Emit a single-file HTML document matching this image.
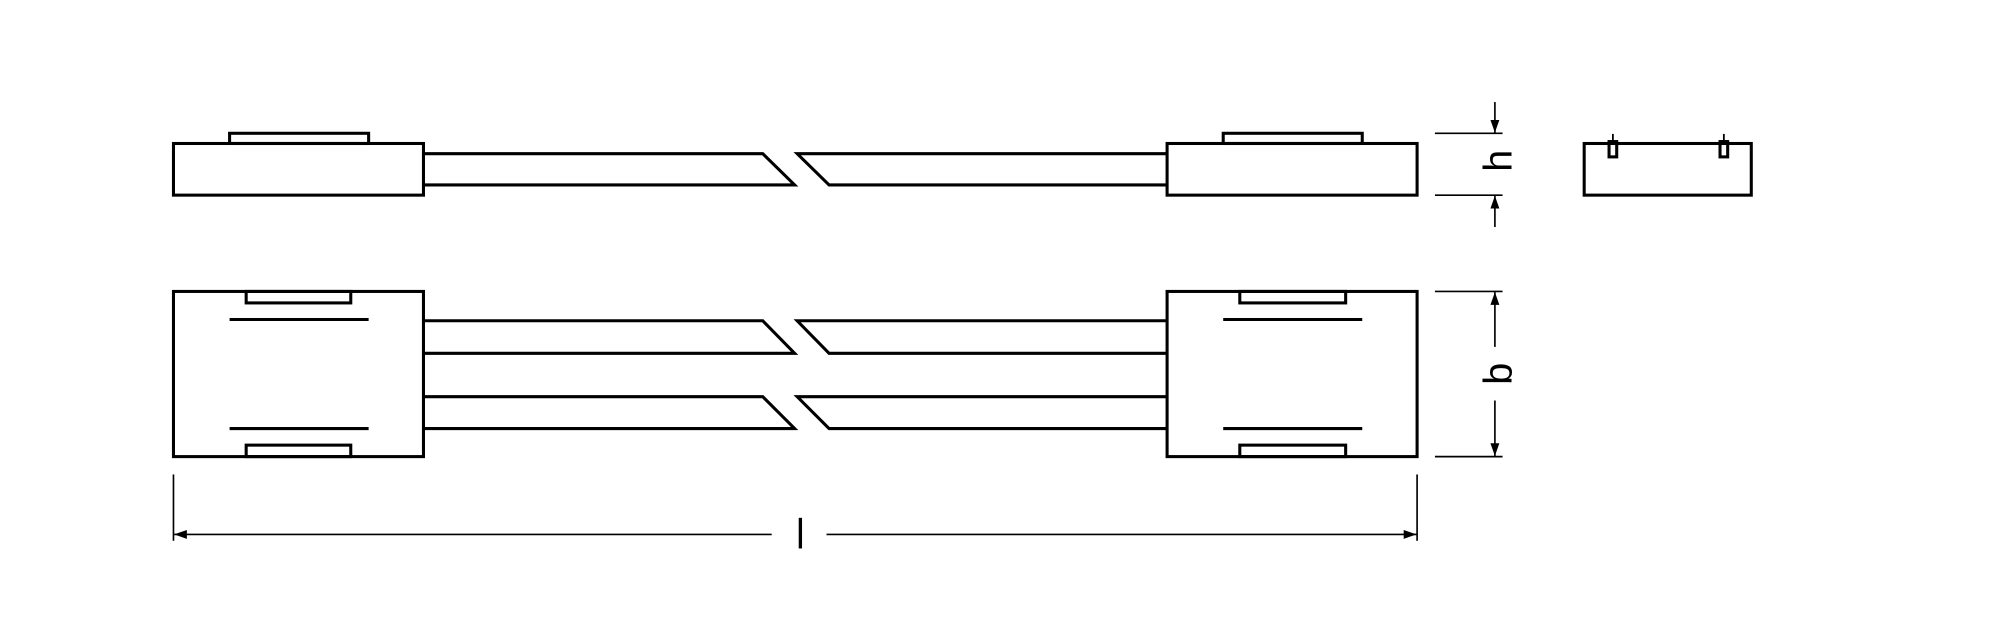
<!DOCTYPE html>
<html><head><meta charset="utf-8"><style>
html,body{margin:0;padding:0;background:#fff;}
svg{display:block;}
</style></head><body>
<svg width="2000" height="639" viewBox="0 0 1568 501" preserveAspectRatio="none" xmlns="http://www.w3.org/2000/svg">
<defs>
<marker id="ar" viewBox="0 0 10 10" refX="10" refY="5" markerWidth="10" markerHeight="10" markerUnits="userSpaceOnUse" orient="auto">
<path d="M0,1.5 L10,5 L0,8.5 z" fill="#000"/>
</marker>
</defs>
<g fill="none" stroke="#000" stroke-width="2.4" stroke-linejoin="miter">
<!-- TOP VIEW -->
<rect x="180" y="104.5" width="109" height="8"/>
<rect x="136" y="112.5" width="196" height="40.5"/>
<path d="M332,120.5 H598 L623,145 H332"/>
<path d="M915,120.5 H625 L650,145 H915"/>
<rect x="959" y="104.5" width="109" height="8"/>
<rect x="915" y="112.5" width="196" height="40.5"/>
<!-- end view -->
<rect x="1242" y="112.5" width="131" height="40.5"/>
<rect x="1261.5" y="111" width="6" height="12"/>
<rect x="1348.5" y="111" width="6" height="12"/>
<line x1="1264.5" y1="105" x2="1264.5" y2="112" stroke-width="1.4"/>
<line x1="1351.5" y1="105" x2="1351.5" y2="112" stroke-width="1.4"/>

<!-- PLAN VIEW -->
<rect x="136" y="228.5" width="196" height="129.5"/>
<rect x="193" y="228.5" width="82" height="9"/>
<rect x="193" y="349" width="82" height="9"/>
<line x1="180" y1="250.5" x2="289" y2="250.5"/>
<line x1="180" y1="336" x2="289" y2="336"/>
<path d="M332,251.5 H598 L623,277 H332"/>
<path d="M332,311 H598 L623,336 H332"/>
<path d="M915,251.5 H625 L650,277 H915"/>
<path d="M915,311 H625 L650,336 H915"/>
<rect x="915" y="228.5" width="196" height="129.5"/>
<rect x="972" y="228.5" width="83" height="9"/>
<rect x="972" y="349" width="83" height="9"/>
<line x1="959" y1="250.5" x2="1068" y2="250.5"/>
<line x1="959" y1="336" x2="1068" y2="336"/>
</g>

<g fill="none" stroke="#000" stroke-width="1.3">
<!-- h dimension -->
<line x1="1125" y1="104.5" x2="1178" y2="104.5"/>
<line x1="1125" y1="153" x2="1178" y2="153"/>
<line x1="1172" y1="80" x2="1172" y2="104" marker-end="url(#ar)"/>
<line x1="1172" y1="178" x2="1172" y2="153.5" marker-end="url(#ar)"/>
<!-- b dimension -->
<line x1="1125" y1="228.5" x2="1178" y2="228.5"/>
<line x1="1125" y1="358" x2="1178" y2="358"/>
<line x1="1172" y1="272" x2="1172" y2="229" marker-end="url(#ar)"/>
<line x1="1172" y1="314" x2="1172" y2="357.5" marker-end="url(#ar)"/>
<!-- l dimension -->
<line x1="136" y1="372" x2="136" y2="424"/>
<line x1="1111" y1="372" x2="1111" y2="424"/>
<line x1="605" y1="419" x2="136.5" y2="419" marker-end="url(#ar)"/>
<line x1="648" y1="419" x2="1110.5" y2="419" marker-end="url(#ar)"/>
</g>

<g font-family="'Liberation Sans', sans-serif" font-size="31" fill="#000">
<text x="0" y="0" text-anchor="middle" transform="translate(1185,126) rotate(-90)">h</text>
<text x="0" y="0" text-anchor="middle" transform="translate(1185,293) rotate(-90)">b</text>
</g>
<line x1="627.5" y1="406" x2="627.5" y2="430" stroke="#000" stroke-width="2.6"/>
</svg>
</body></html>
